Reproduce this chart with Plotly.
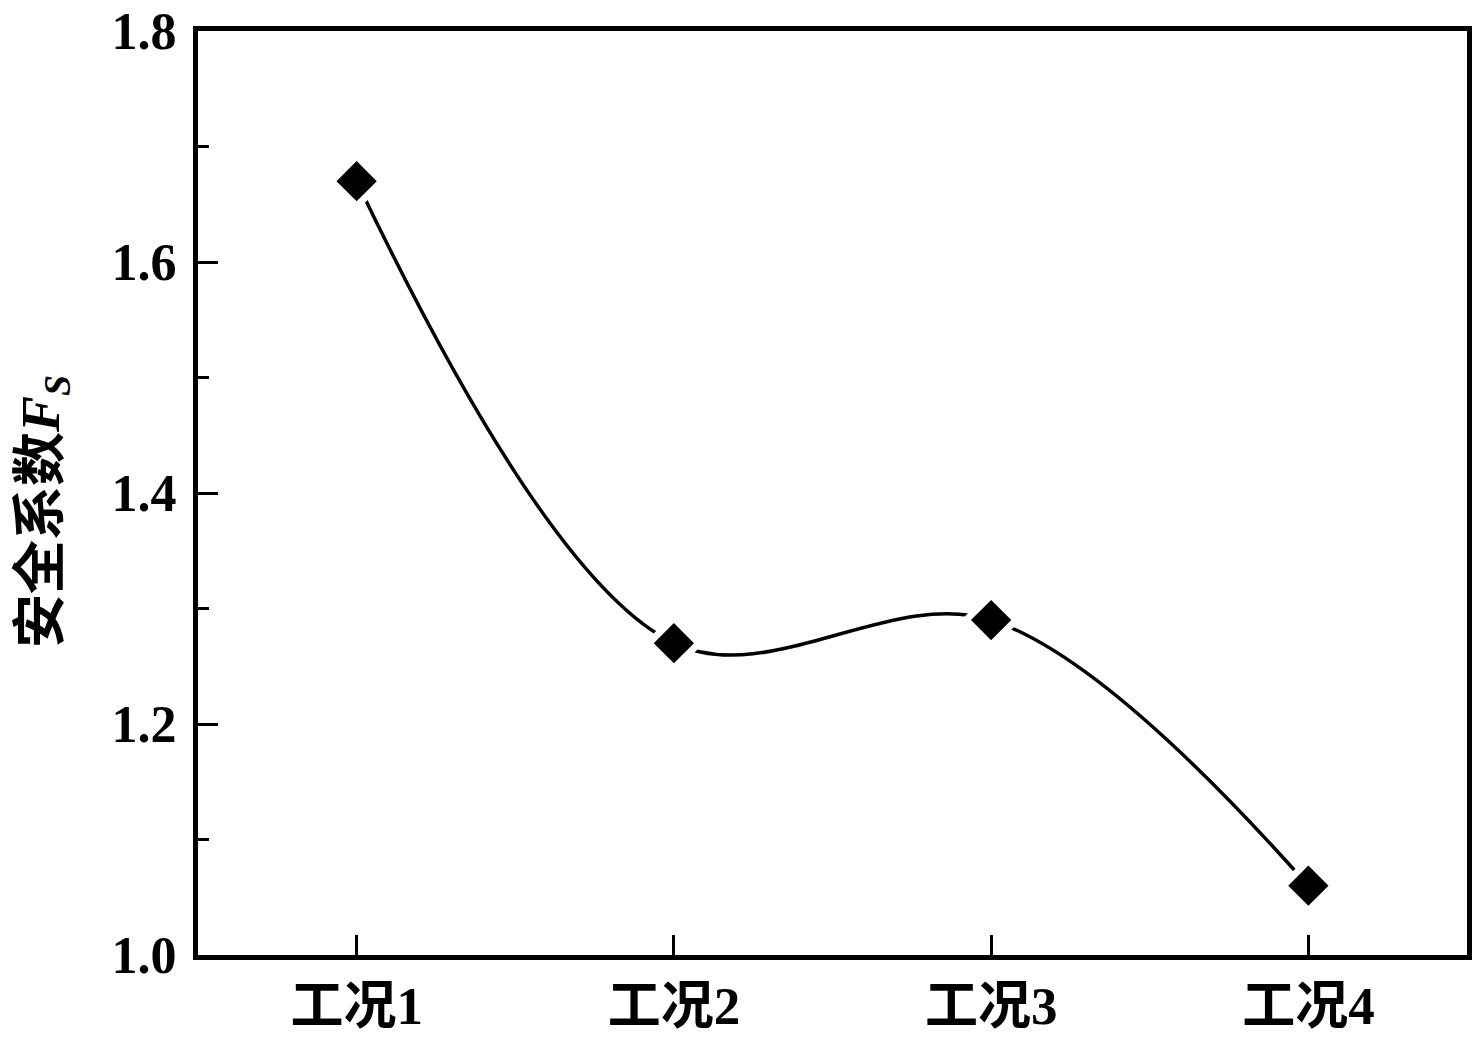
import plotly.graph_objects as go

categories = ["工况1", "工况2", "工况3", "工况4"]
safety_factor = [1.67, 1.27, 1.29, 1.06]
y_tick_values = [1.0, 1.2, 1.4, 1.6, 1.8]
y_tick_labels = ["1.0", "1.2", "1.4", "1.6", "1.8"]

font_family = "Liberation Serif, Noto Sans CJK SC, serif"

fig = go.Figure()
fig.add_trace(go.Scatter(
    x=categories, y=safety_factor, mode="lines",
    line=dict(color="black", width=3.5, shape="spline", smoothing=1.0),
    hoverinfo="skip", showlegend=False))
fig.add_trace(go.Scatter(
    x=categories, y=safety_factor, mode="markers",
    marker=dict(symbol="diamond", size=46, color="white", line=dict(width=0)),
    hoverinfo="skip", showlegend=False))
fig.add_trace(go.Scatter(
    x=categories, y=safety_factor, mode="markers",
    marker=dict(symbol="diamond", size=31, color="black", line=dict(width=0)),
    showlegend=False))

fig.update_layout(
    width=1483, height=1044,
    margin=dict(l=198, r=16, t=31, b=89, autoexpand=False),
    paper_bgcolor="white", plot_bgcolor="white",
    font=dict(family=font_family, size=50, color="black"),
)
fig.update_xaxes(
    type="category", range=[-0.5, 3.5], automargin=False,
    showline=True, linecolor="black", linewidth=5, mirror=True,
    ticks="inside", ticklen=20, tickwidth=3, tickcolor="black",
    showgrid=False, zeroline=False,
    tickfont=dict(family=font_family, size=53, weight="bold"),
)
fig.update_yaxes(
    range=[1.0, 1.8], tickvals=y_tick_values, ticktext=y_tick_labels,
    automargin=False,
    showline=True, linecolor="black", linewidth=5, mirror=True,
    ticks="inside", ticklen=20, tickwidth=3, tickcolor="black",
    minor=dict(ticks="inside", ticklen=11, tickwidth=3, tickcolor="black",
               tickvals=[1.1, 1.3, 1.5, 1.7]),
    showgrid=False, zeroline=False, ticklabelstandoff=6,
    ticklabeloverflow="allow",
    tickfont=dict(family=font_family, size=52, weight="bold"),
)
fig.add_annotation(
    text="安全系数<i>F</i><sub><i>S</i></sub>",
    xref="paper", yref="paper", x=-0.121, y=0.48,
    xanchor="center", yanchor="middle", textangle=-90, showarrow=False,
    font=dict(family=font_family, size=54, weight="bold"),
)

fig.write_html("out.html", config={"displayModeBar": False},
               post_script="document.body.style.margin='0';")
